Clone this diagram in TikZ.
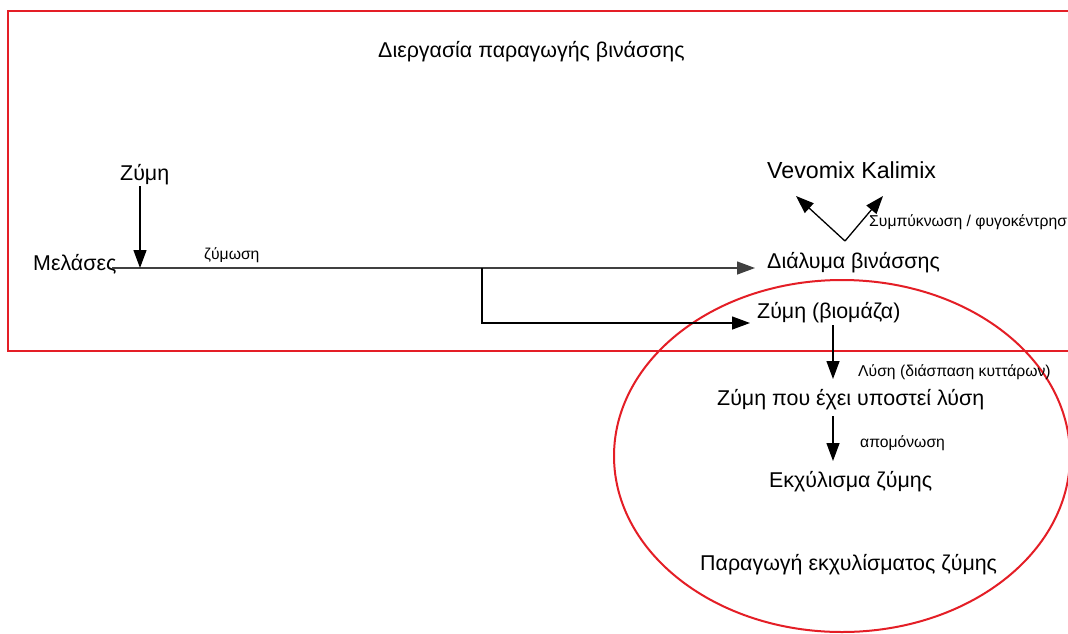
\documentclass[tikz,border=0pt]{standalone}
\usepackage{fontspec}
\setmainfont{Liberation Sans}
\usetikzlibrary{arrows.meta}
\definecolor{redline}{RGB}{228,30,38}
\definecolor{darkline}{RGB}{64,64,64}
\begin{document}
\begin{tikzpicture}[x=1pt,y=-1pt,
  big/.style={font=\fontsize{21.4}{24}\selectfont, inner sep=0pt, anchor=base west},
  bigger/.style={font=\fontsize{23.2}{26}\selectfont, inner sep=0pt, anchor=base west},
  small/.style={font=\fontsize{15.7}{18}\selectfont, inner sep=0pt, anchor=base west},
  arr/.style={-{Triangle[length=18pt,width=13pt]}, line width=1.3pt},
  frame/.style={draw=redline, line width=2pt}]
\useasboundingbox (0,0) rectangle (1068,633);
\clip (0,0) rectangle (1068,633);
\fill[white] (0,0) rectangle (1068,633);
\draw[frame] (8,11) rectangle (1100,351);
\draw[frame] (842,456) ellipse [x radius=228, y radius=176];

\node[big] (title) at (378,57) {Διεργασία παραγωγής βινάσσης};
\node[big] (zymi) at (120,180) {Ζύμη};
\node[big] (mel) at (33,270) {Μελάσες};
\node[small] (zymosi) at (204,259) {ζύμωση};
\node[bigger] (vev) at (767,178) {Vevomix Kalimix};
\node[small] (symp) at (869,226) {Συμπύκνωση / φυγοκέντρηση};
\node[big] (dia) at (767,268) {Διάλυμα βινάσσης};
\node[big] (bio) at (757,318) {Ζύμη (βιομάζα)};
\node[small] (lysi) at (858,376) {Λύση (διάσπαση κυττάρων)};
\node[big] (lysed) at (717,405) {Ζύμη που έχει υποστεί λύση};
\node[small] (apom) at (860,447) {απομόνωση};
\node[big] (extr) at (769,487) {Εκχύλισμα ζύμης};
\node[big] (prod) at (700,570) {Παραγωγή εκχυλίσματος ζύμης};

\coordinate (m0) at (112,268);
\coordinate (split) at (482,268);
\coordinate (diaIn) at (755,268);
\coordinate (corner) at (482,323);
\coordinate (bioIn) at (750,323);
\coordinate (zTop) at (140,186);
\coordinate (zBot) at (140,268);
\coordinate (vBase) at (845,241);
\coordinate (vL) at (796,196);
\coordinate (vR) at (883,196);
\coordinate (b0) at (833,325);
\coordinate (b1) at (833,379);
\coordinate (c0) at (833,416);
\coordinate (c1) at (833,461);

\draw[arr, draw=darkline] (m0) -- (diaIn);
\draw[arr] (split) -- (corner) -- (bioIn);
\draw[arr] (zTop) -- (zBot);
\draw[arr] (vBase) -- (vL);
\draw[arr] (vBase) -- (vR);
\draw[arr] (b0) -- (b1);
\draw[arr] (c0) -- (c1);
\end{tikzpicture}
\end{document}
